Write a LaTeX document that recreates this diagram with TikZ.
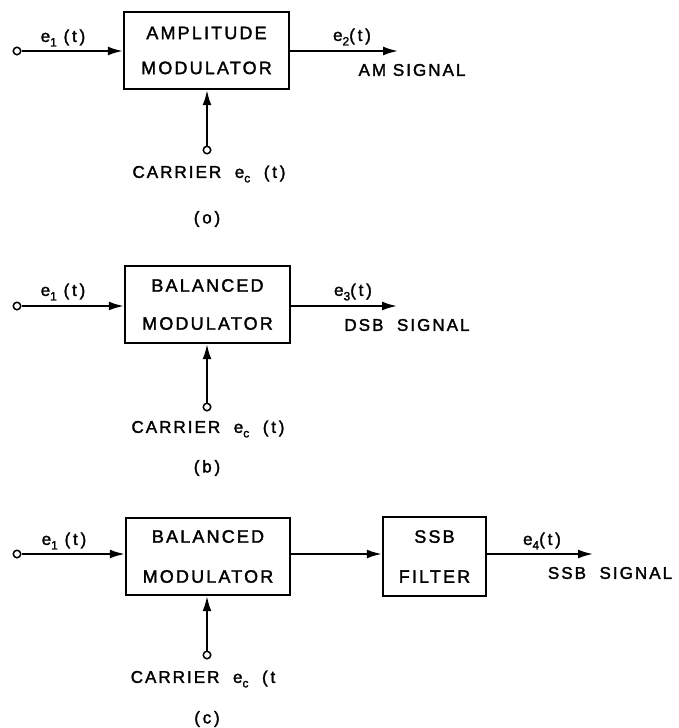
\documentclass[tikz,border=0pt]{standalone}
\usepackage{fontspec}
\setmainfont{Liberation Sans}[LetterSpace=12,FakeBold=1.8]
\usetikzlibrary{arrows.meta}
\newcommand{\sbs}[1]{\raisebox{-4.5pt}{\fontsize{12}{12}\selectfont #1}}
\begin{document}
\begin{tikzpicture}[x=1pt,y=-1pt,
  blk/.style={draw,line width=2.4pt,inner sep=0pt,align=center},
  sig/.style={line width=2pt,-{Latex[length=15pt,width=9pt]}},
  term/.style={circle,draw,line width=1.5pt,minimum size=7.5pt,inner sep=0pt,fill=white},
  lab/.style={font=\fontsize{17}{20}\selectfont,inner sep=0pt}]
\useasboundingbox (0,0) rectangle (679,728);

% ---------------- (a) ----------------
\node[blk,minimum width=165pt,minimum height=77pt,font=\fontsize{18}{35}\selectfont] (A) at (206.5,50.5) {AMPLITUDE\\MODULATOR};
\node[term] (inA) at (17,51) {};
\node[term] (cA) at (207,150) {};
\coordinate (oA) at (398,51);
\draw[sig] (inA) -- (inA -| A.west);
\draw[sig] (A.east |- oA) -- (oA);
\draw[sig] (cA) -- (cA |- A.south);
\node[lab] (e1a) at (63,38) {e\sbs{1} (\,t\,)};
\node[lab] (e2a) at (352,37) {e\sbs{2}(\,t\,)};
\node[lab] (ama) at (412,70) {AM SIGNAL};
\node[lab] (cra) at (209,174) {CARRIER\ \ e\sbs{c} \ (\,t\,)};
\node[lab] (capa) at (207,219) {(\,o\,)};

% ---------------- (b) ----------------
\node[blk,minimum width=165pt,minimum height=77pt,font=\fontsize{18}{38}\selectfont] (B) at (207.5,304.5) {BALANCED\\MODULATOR};
\node[term] (inB) at (17,306) {};
\node[term] (cB) at (207,407) {};
\coordinate (oB) at (397,306);
\draw[sig] (inB) -- (inB -| B.west);
\draw[sig] (B.east |- oB) -- (oB);
\draw[sig] (cB) -- (cB |- B.south);
\node[lab] (e1b) at (63,292) {e\sbs{1} (\,t\,)};
\node[lab] (e3b) at (353,292) {e\sbs{3}(\,t\,)};
\node[lab] (dsb) at (407,325) {DSB\ \ SIGNAL};
\node[lab] (crb) at (208,429) {CARRIER\ \ e\sbs{c} \ (\,t\,)};
\node[lab] (capb) at (207,468) {(\,b\,)};

% ---------------- (c) ----------------
\node[blk,minimum width=164pt,minimum height=77pt,font=\fontsize{18}{40}\selectfont] (C) at (208,556.5) {BALANCED\\MODULATOR};
\node[blk,minimum width=103pt,minimum height=79pt,font=\fontsize{18}{40}\selectfont] (F) at (434.5,556.5) {SSB\\FILTER};
\node[term] (inC) at (17,554) {};
\node[term] (cC) at (207,655) {};
\coordinate (oC) at (593,554);
\draw[sig] (inC) -- (inC -| C.west);
\draw[sig] (C.east |- oC) -- (F.west |- oC);
\draw[sig] (F.east |- oC) -- (oC);
\draw[sig] (cC) -- (cC |- C.south);
\node[lab] (e1c) at (64,541) {e\sbs{1} (\,t\,)};
\node[lab] (e4c) at (542,541) {e\sbs{4}(\,t\,)};
\node[lab] (ssb) at (610,573) {SSB\ \ SIGNAL};
\node[lab] (crc) at (203,679) {CARRIER\ \ e\sbs{c} \ (\,t};
\node[lab] (capc) at (207,719) {(\,c\,)};
\end{tikzpicture}
\end{document}
